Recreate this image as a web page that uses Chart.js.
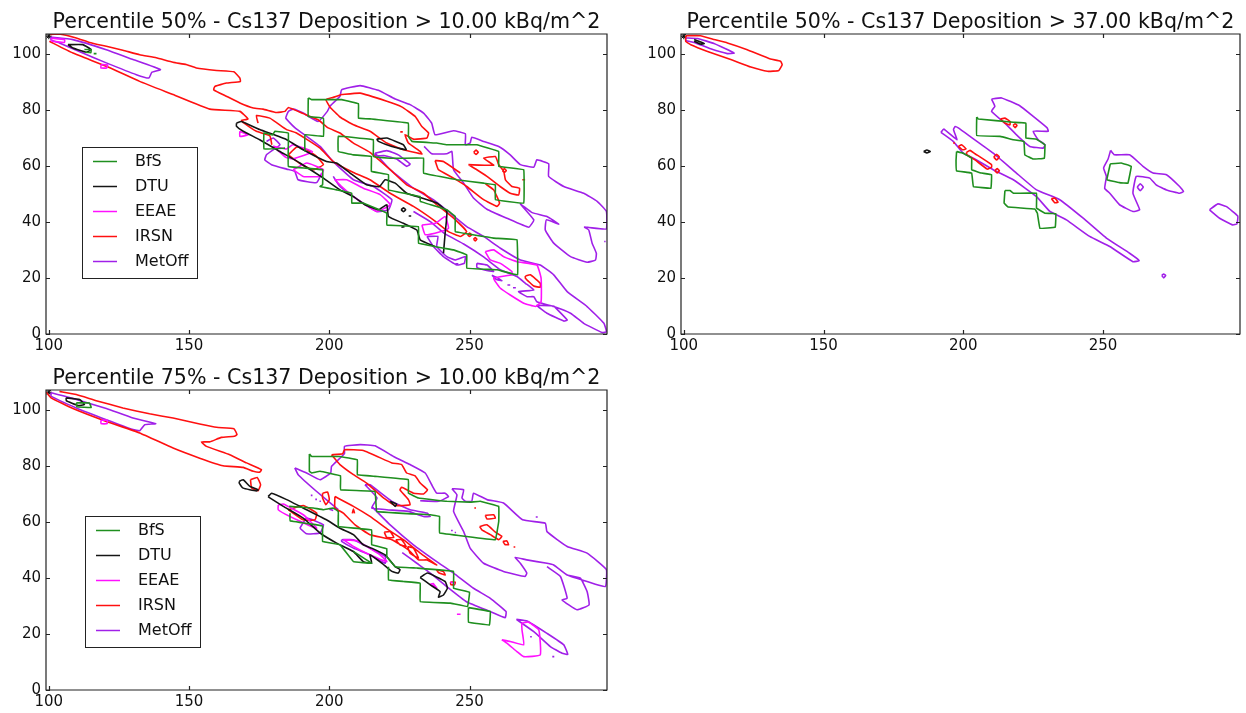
<!DOCTYPE html>
<html>
<head>
    <title>Cs137 Deposition</title>
    <style>
        html, body { margin: 0; padding: 0; background: #fff; overflow: hidden; }
        canvas { position: absolute; filter: blur(0.35px); }
    </style>
</head>
<body>
    <canvas id="chart1" style="left:0;top:0" width="620" height="356"></canvas>
    <canvas id="chart2" style="left:640px;top:0" width="606" height="356"></canvas>
    <canvas id="chart3" style="left:0;top:356px" width="620" height="356"></canvas>
    <script src="https://cdn.jsdelivr.net/npm/chart.js"></script>
    <script>
        // tick labels and names
        const xTicks = [100, 150, 200, 250];
        const yTicks = [0, 20, 40, 60, 80, 100];
        const models = ['BfS', 'DTU', 'EEAE', 'IRSN', 'MetOff'];
        const modelColors = ['#1f8f1f', '#151515', '#ff10ff', '#ff1010', '#a020e8'];
        const sourcePoint = [[100, 106.2]];

        // contours as [lon index, lat index], null = pen up
        // Percentile 50%, > 10 kBq/m^2
        const p1BfS = [[192.5,84.2],[193.7,83.6],[203.8,83.6],[204.4,83.6],[210.4,82.1],[210.4,77],[215.1,76.7],[217.5,76.4],[228.2,75.2],[228.2,70.5],[229.5,68.7],[238.3,68.1],[241.9,67.5],[250.2,67.5],[252.6,67.5],[260.4,65.1],[260.4,59.8],[269.3,58.6],[269.3,46.7],[259.2,47.9],[259.2,53.2],[255,53.8],[245.5,55],[233.6,57.4],[233.6,62.7],[226.4,62.7],[221.7,62.7],[215.7,63.3],[215.7,69.3],[203.2,70.5],[203.2,65.1],[208.6,63.9],[215,63.3],[215,58],[221.1,56.8],[221.1,51.4],[232.4,49],[232.4,47.3],[241.9,44.3],[244.9,41.9],[244.9,36.5],[258.6,34.2],[266.9,33.6],[267.1,21.1],[259.8,22.9],[249,23.5],[249,28.2],[244.3,30],[240.7,30.6],[231.8,32.4],[231.8,38.3],[220.5,38.9],[220.5,43.1],[212.1,46.7],[208,46.7],[208,50.2],[202.6,51.4],[196.7,52.6],[197.6,53.2],[197.6,58.6],[185.4,59.8],[185.4,71.7],[180.6,72.3],[179.8,71],[176.7,71.7],[176.7,66],[184.2,66.3],null,
            [192.5,84.2],[192.5,77.6],[197.9,77],[197.9,70.5],[191.3,71.1],[191.3,65.1],null,
            [112.7,101.5],[115.1,101.4],[115,100.3],[113,100.5],null,[116,100],[117,100]];
        const p1DTU = [[166.9,75.2],[168.7,75.8],[175.2,72.9],[184.8,69.3],[190.7,65.7],[199,61.5],[202.6,61],[207.4,57.4],[213.3,53.2],[217.9,52.6],[219.9,55],[223.5,53.8],[227.6,50.2],[233,48.5],[238.3,46.7],[241.9,43.7],[241.3,36],[240.7,28.8],null,
            [237.7,31.2],[232.4,33.6],[231.2,37.1],[226.4,39.5],[221.1,41.9],[220.5,46.1],[217.5,44.3],[212.7,46.1],[208.6,49],[203.8,51.4],[197.9,55.6],[189.5,61],[182.4,65.1],[175.2,69.3],[169.3,72.3],[166.9,74.1],[166.9,75.2],null,
            [216.9,69.5],[220.5,69.9],[226.4,67.5],[227.4,65.7],[222.3,66.9],[217.5,68.7],[216.9,69.5],null,
            [225.6,44.3],[226.4,45],[227.2,44.3],[226.4,43.6],[225.6,44.3],null,[228.3,42.1],[229.2,42.1],null,[225.7,38.1],[226.8,38.3],null,
            [106.8,103.2],[112.1,103.2],[115.1,101.4],[113.3,100.5],[108.6,102],[106.8,103.2]];
        const p1EEAE = [[255.6,29.4],[258.6,30],[262.1,27.6],[266.9,25.8],[274,24.6],[275.5,19.9],[275.5,11.5],[273.5,9.8],[269.3,11],[264.5,13.9],[261,16.3],[258.6,19.9],[265.1,21.1],[265.1,22.3],[261,25.2],[257.4,26.4],[255.6,29.4],null,
            [233,38.9],[237.8,39.5],[241.3,41.9],[242.5,37.7],[239.5,36.5],[234.2,35.4],[233,38.9],null,
            [202,55],[204.4,52.6],[208.6,49],[216.9,43.7],[221.7,46.1],[218.1,49.7],[212.1,52],[206.2,55],[202,55],null,
            [180,67],[184.8,66],[187,67.5],[194,65],[187,62.5],[184.5,63],[180,67],null,
            [187.1,58.6],[190.7,56.2],[196.7,56.2],[197.9,58.6],[192,61],[187.1,58.6],null,
            [168.1,72.3],[171,71],[168.1,70.5],[168.1,72.3],null,
            [118.7,96.1],[121,96],[120.6,94.9],[118.5,94.9],[118.7,96.1],null,
            [101,105.5],[105.6,105],[105.6,104],[101,104.5],[101,105.5]];
        const p1IRSN = [[100.2,106.8],[103.5,107],[109.8,105.6],[114.5,104],[120.5,102.6],[126.4,101.2],[132.4,99.6],[138.3,98.5],[144.3,96.9],[149,96.1],[152.6,94.9],[159.8,94],[166,93.5],[168.1,91.3],[168.3,90.1],[163.3,89.5],[159.2,88.3],[158.8,87.1],[163.3,84.8],[168.1,82.4],[172.9,80.6],[176.4,80.2],[181.2,79],[184.2,79.4],[185.4,80.8],[190.7,78.6],[196,76.4],[199.6,73.5],[203.8,71.7],[208.6,68.1],[214.5,64.8],[221.7,58.6],[227.6,53.2],[233.6,50.2],[238.3,46.1],[244.3,41.3],[249,36.5],[246.7,34.8],[242.5,36.5],[237.1,40.7],[230,45.5],[221.7,50.2],[214.5,55],[208.6,57.6],[201.4,61.5],[196.7,66.3],[188.3,71.7],[184.8,72.9],[178.8,77],[174,77.9],[174.6,75.2],null,
            [100.2,104.4],[108.6,100.2],[120.5,95.5],[132.4,90.1],[144.3,85.4],[157.4,80.2],[168.1,79.4],[171,76.7],[168.7,76.2],[169.5,75.3],[174,72.3],[178.8,70.7],[179.5,67.5],null,
            [204.4,85.4],[211,85.9],[220.5,83],[225.8,81],[230.6,77.6],[233,74],[235.4,71.7],[234.8,69.9],[230,69.5],[227,71.1],[228.2,68.1],[232.4,65.1],[233,64.2],[226.4,65.7],[220.5,68.1],[214.5,72.3],[208.6,74.6],[203.8,77.4],[200.2,81],[198.8,83.6],[201.4,84.4],[204.4,85.4],null,
            [237.7,61.9],[240.7,61.5],[246.7,57.4],null,[237.7,61.9],[238.9,58.6],[244.3,55.6],[249,52.6],[255,47.9],[259.8,45.5],[260.7,46.7],[258.6,51.4],[255.6,53.6],null,
            [249.6,60.4],[258.6,60.2],[255,62.7],[259.2,63.3],[260.4,60.4],[262.2,58],[262.8,55],[265.1,52.6],[267.8,52],[267.5,49.6],[264.5,50.2],[260.9,52.6],[256.2,56.2],[252.6,58.6],[249.6,60.4],null,
            [251.5,64.8],[252.3,65.6],[253.1,64.8],[252.3,64],[251.5,64.8],null,
            [261.7,58.3],[262.4,59],[263.1,58.3],[262.4,57.6],[261.7,58.3],null,
            [268.8,55],[269.8,55],null,[225.3,72.1],[226.2,72.1],null,
            [249.3,35.4],[250,36],[250.7,35.4],[250,34.8],[249.3,35.4],null,
            [251.4,33.8],[252,34.4],[252.6,33.8],[252,33.2],[251.4,33.8],null,
            [269.9,20.7],[271.7,21.1],[275.2,18.1],[275.2,16.7],[272.9,17.1],[269.9,19.9],[269.9,20.7],null,
            [185.4,63.9],[188.4,66.7],[191.9,65.7],[195.5,63.3],[197.9,60.4],[194.3,58.6],[190.1,60.4],[185.4,63.9]];
        const p1MetOff = [[100.8,105.9],[108.6,105],[120.5,101.4],[130,97.9],[139.8,94.3],[136.7,93.3],[135.7,91.3],[131.2,92.5],[120.5,96.7],[112.1,100.2],[103.8,103.8],[100.8,104.8],[100.8,105.9],null,
            [201.4,56.2],[203.8,52.6],[208.6,49],[216.9,43.7],[221.1,44.3],[222.3,47.9],[215.7,52.6],[208.6,55],[201.4,61.5],[196.7,66.9],[191.9,70.5],[187.8,73.5],[184.5,77],[185.4,79.4],[187.1,80.2],[190.7,78.8],[196,75.8],[199.3,79.4],[200.2,81.2],[203.8,84.8],[204.4,87.1],[211,88.6],[217.5,86.9],[223.5,83.8],[228.8,81.8],[233.6,78.8],[236.5,75.2],[237.7,71.1],[244.3,72.5],[248.5,71.4],[248.5,67.5],[250.2,68.1],[250.8,70.2],[255,68.7],[260.4,66.9],[264.5,63.9],[268.1,60.4],[272.9,59.5],[274,62.1],[278.2,60.7],[278.2,56.2],[283.6,52.6],[290.7,50.2],[295.5,47.3],[298.8,43.7],[298.8,37.5],[292.5,38],[291,38.1],[292.5,37.1],[293.7,32.4],[295.2,28.8],[294.9,26.4],[291.9,25.6],[286,27.6],[280,32.4],[277,37.1],[277.4,40.7],[281.8,39.2],[277.6,41.9],[272.3,43.3],[268.1,46.4],[272.9,40.7],[271.1,38.1],[263.3,41.3],[256.2,44.5],[251.4,48.5],[247.9,53.8],[244.3,58.6],[243.7,65.1],[241.9,64.3],[236.5,64.3],[233.8,66.9],null,
            [216.3,64.5],[220.5,65.4],[224.6,63.9],[228.8,60.6],[227.6,59.8],[224,62.4],[219.9,63.6],[216.3,63.6],[216.3,64.5],null,
            [216.3,64.5],[221.7,58.6],[230,52],[237.1,47.9],[243.1,43.1],[249,38.3],[255,34.8],[261,30.6],[268.1,26.4],[275.2,24.6],[280,21.1],[284.8,15.1],[291.9,9.8],[297.9,3.8],[298.8,0.8],[297.3,0.5],[290.7,3.8],[286,7.4],[280,9.8],[274,11.5],[272.9,13.3],[270.5,13.3],[267.5,15.1],[272.9,15.7],[269.9,18.1],[266.9,20.5],[261,22.9],[255,27.5],[247.9,32.1],[241.3,35.7],[236,40.1],[230,43.7],null,
            [252.6,25.2],[256.2,24.6],[258.6,22.3],[255,22.9],[252.6,23.8],[252.6,25.2],null,
            [280,10],[284.8,5],[283.6,4.6],[277.6,7.4],[274,10.2],[280,10],null,
            [177.6,68.7],[180,69.9],[182.4,67.5],[180,65.7],[177.6,63.9],[177,62.1],[179.4,60.4],[184.8,58.8],[187.7,58],[188.9,55],[195.5,54],[197.3,57.4],null,
            [234.8,34.8],[238.7,34.8],[238.3,31.2],[241.9,27.6],[244.9,26.4],[248.5,27.6],[248.1,25.2],[245.5,24.6],[240.7,27.6],[237.1,31.2],[234.8,34.8],null,
            [258,21],[260,20],[261.5,19],[259.5,19.5],[258,21],null,[263.5,17.5],[264.5,17.5],null,[265.5,16.5],[266.5,16.5],null,[245,25],[246,25],null,[298,33],[298.5,33]];
        // Percentile 50%, > 37 kBq/m^2
        const p2BfS = [[204.8,77.4],[205.4,76.7],[217.9,75.5],[222.4,75.2],[222.4,69.9],[226.2,69.5],[229.2,67.5],[229,62.7],[225,62.4],[222,63.9],[221.7,68.7],[217.9,69.3],[213.2,70.5],[204.8,70.8],[204.8,77.4],null,
            [197.6,65.1],[200,64.5],[203,62.7],[203,58.6],[206.5,57.4],[210.1,56.8],[209.9,52],[203.6,52.6],[203,57.4],[197.6,58.2],[197.4,61.9],[197.6,65.1],null,
            [214.9,51.2],[216.7,51.2],[217.9,50.2],[226.2,50.2],[226.2,44.9],[229.2,43.1],[233.1,42.9],[232.9,38.1],[227.4,37.7],[226.5,43.1],[225.6,44.6],[216,45.3],[214.6,46.7],[214.9,51.2],null,
            [252.6,60.7],[256.5,61],[260.1,59.8],[258.9,53.8],[255.9,54],[251.4,55],[252.6,60.7]];
        const p2DTU = [[185.8,65.1],[187,65.6],[188.2,65.1],[187,64.6],[185.8,65.1],null,[103.7,105],[107.3,103.6],[106,103.4],[103.7,104.4]];
        const p2IRSN = [[100.7,106.4],[106,106.4],[110.2,105.2],[115.6,103.8],[122.7,101.4],[131,98.1],[134.6,97.3],[135.2,96.1],[134,94],[129.9,93.7],[124,95.2],[116.8,97.9],[108.5,100.8],[102.5,103.2],[100.7,104.4],[100.7,106.4],null,
            [213.3,76.7],[214.9,77],[216.7,75.8],[216.7,74.6],[214.9,75.2],[213.3,76.7],null,
            [217.8,74.4],[218.5,75],[219.2,74.4],[218.5,73.6],[217.8,74.4],null,
            [210.9,63.1],[211.9,64.1],[212.9,63.1],[211.9,62.1],[210.9,63.1],null,
            [211.3,58.2],[212.1,59],[212.9,58.2],[212.1,57.4],[211.3,58.2],null,
            [231.5,48.3],[232.7,48.5],[233.9,47],[232.7,46.8],[231.5,48.3],null,
            [198.2,66.9],[199.4,67.5],[201,66],[199.8,65.7],[198.2,66.9],null,
            [201.2,64.8],[202.4,65.5],[204.2,64.3],[210.1,60.4],[210.1,59.5],[208.6,58.8],[204.2,62.1],[201.2,64],[201.2,64.8],null,
            [196.4,68.2],[197,68]];
        const p2MetOff = [[100.7,105.6],[104.9,105.4],[110.8,103.6],[118,100.2],[115.6,100],[109.6,101.7],[103.7,104],[100.7,104.7],[100.7,105.6],null,
            [192,71.9],[193,73.1],[197.7,69.3],[196.5,72.9],[197.1,74],[198.2,73.5],[202.4,70.5],[210.7,64.5],[219,57.4],[226.2,51.4],[234.5,47.9],[242.9,41.3],[251.2,34.2],[259.5,28.8],[262.9,26.2],[260.7,25.8],[252.4,31.2],[245.2,34.8],[236.9,40.7],[231,43.7],[226.2,49],[217.9,55],[210.7,58.6],[203.6,62.7],[200,64.5],[196.4,68.7],[192,71.9],null,
            [210.1,83.8],[213.7,84.2],[220.2,81.4],[225,77.6],[230,73.5],[230.4,72.3],[225,72.3],[226.8,69.3],[229.2,67.5],[228.6,66.3],[223.8,66.9],[219.6,70.5],[214.9,75.2],[210.1,79.4],[211.3,81.2],[210.1,83.8],null,
            [252.7,65.5],[254.1,63.9],[259.5,63.9],[264.3,59.8],[267.9,57.4],[272.7,56.8],[277.4,52.6],[278.8,50.8],[277.4,50.2],[272.7,51.4],[269,53.2],[266.7,55.6],[261.9,56.2],[260.7,50.2],[263.1,44.3],[260.7,43.7],[255.9,46.1],[252.4,50.2],[250.6,51.9],[251.2,56.2],[250.2,59.2],[251.8,62.4],[252.7,65.5],null,
            [262.2,52.4],[263.3,53.6],[264.4,52.4],[263.3,51.1],[262.2,52.4],null,
            [288.1,44.3],[291.1,46.4],[294,45.5],[298.2,42.1],[297.9,39.3],[296.4,38.9],[291.7,41.3],[288.1,44.3],null,
            [271,20.9],[271.7,21.4],[272.4,20.9],[271.7,20],[271,20.9]];
        // Percentile 75%, > 10 kBq/m^2
        const p3BfS = [[192.9,84.2],[193.7,83.3],[203.8,83.3],[210,82.1],[210,76.8],[216.3,76.2],[228.2,75],[228.2,70.2],[231.8,68.5],[241.9,67.3],[250.2,67],[253.8,67.3],[260.4,65.5],[260.4,60.1],[259.2,53.6],[248.5,54.8],[239.3,56],[239.3,61.9],[236,62.5],[216.9,63.7],[216.3,70.8],[204,71.4],[204,76.4],[196.7,78],[193.7,77.4],[192.9,78],[192.9,84.2],null,
            [203.2,62.5],[203.2,58.3],[215.1,57.1],[215.1,51.8],[220.5,50.4],[220.5,47.6],[223.5,44],[231.2,43.5],[244.3,42.3],[244.3,36.3],[250,34.9],[249.3,29.8],[243.1,31],[232.4,31.5],[232.4,38.1],[226.4,38.7],[221.1,39.3],[221.1,44],null,
            [249.6,29.4],[257.4,28],[257.1,23.2],[249.6,24.2],[249.6,29.4],null,
            [186,63],[186,60.4],[195.5,58.9],[197.6,58.5],[197.6,53],[203.8,51.8],[208.6,45.8],[215.1,45.2],[208.6,49.4],null,
            [185.7,65.5],[194.3,64.9],[197.9,64.3],[201.4,64.9],[203.2,63.7],[203.2,58.3],null,
            [109.8,102.4],[114.5,102.4],[115.1,100.8],[110,101],[109.8,102.4]];
        const p3DTU = [[167.9,74.4],[169.3,75],[171.7,72.6],[174.6,71.4],[174,71],[169.3,72],[167.9,73.8],[167.9,74.4],null,
            [178.2,69],[179.4,70.2],[184.8,67.9],[191.9,64.3],[199,60.7],[203.8,57.7],[208.6,55.4],[212.1,51.8],[215.1,50.6],[219.9,48.2],[223.5,44],[225.2,42.9],[224.6,41.7],[222.3,42.3],[218.8,45.2],[214.5,48.2],[215.1,45.2],[212.1,45.8],[208.6,49.4],[202.6,52.4],[196.7,56],[190.7,61.3],[183.6,65.5],[178.8,68.5],[178.2,69],null,
            [232.4,40.1],[235,41.7],[241.3,38.7],[242.1,36.3],[240.7,33.9],[238.9,33.1],[239.5,35.1],[236,37.5],[232.4,40.1],null,
            [221.7,67.3],[224,66.3],[223.5,65.5],[221.7,67.3],null,
            [106.2,104.2],[111,103.6],[112.7,101.8],[110.4,101.5],[106.2,103.2],[106.2,104.2]];
        const p3EEAE = [[261.5,17.9],[264.5,17.3],[269.3,16.1],[268.7,21.4],[268.7,23.8],[271.1,24.2],[274.7,21.4],[275.2,12.5],[269.3,11.9],[266.9,13.7],[263.3,16.7],[261.5,17.9],null,
            [236,37.7],[238.3,36.3],[237,38],[236,37.7],null,[245.5,27],[246.8,27],null,[243.2,38.5],[244.8,38],null,
            [181.8,66],[183.6,66.3],[190.7,62.5],[195.5,57.7],[186,61.9],[181.8,64.3],[181.8,66],null,
            [205,53.6],[209.8,53.2],[218.1,48.2],[220.5,45.8],[213.3,48.8],[208.6,51.2],[205,53.6],null,
            [118.6,96.2],[120.8,96.3],[120.8,95],[118.6,95],[118.6,96.2]];
        const p3IRSN = [[103.8,106.5],[109.8,105.4],[116.9,103.2],[126.4,100.6],[135.9,98.5],[144.3,97],[153.8,94.9],[159.8,93.7],[166,93.2],[167.1,91.1],[166.2,90.5],[161.5,90.1],[157.4,88.5],[154.4,88.5],[156.2,86.9],[164.5,83.9],[170.5,81],[175.8,78.6],[175.2,77.7],[172.9,78],[169.3,79.4],[162.1,80],[153.8,82.7],[144.3,86.3],[132.4,91.7],[120.5,95.8],[108.6,100.4],[100.8,104.2],[99,106.3],null,
            [171.9,75],[174.3,75.8],[175.5,73.2],[174.6,71.1],[172.3,72],[171.9,75],null,
            [185.4,64.3],[190.7,65.8],[195.5,63.1],[194.9,60.7],[190.7,60.7],[185.4,64.3],null,
            [200.8,83.9],[204.8,84.3],[205.4,85.7],[212.1,85.4],[222.3,81],[225.8,80.4],[227.6,77.4],[230.6,76.4],[232.4,73.8],[235,71.4],[233.6,69.9],[230,70.2],[225.8,72.3],[225.2,71.4],[228.2,67.9],[228.8,66.1],[223.5,65.8],[219.3,68.5],[213.3,73.8],[208.6,76.8],[203.8,80.4],[200.8,83.9],null,
            [202,69],[208.6,65.5],[214.5,61.9],[221.1,57.1],[226.4,53.6],[232.4,48.8],[238.3,44.6],[234.8,46.4],[231.8,46.4],[228.2,50],[222.3,53.6],[214.5,55.4],[209.2,58.9],[205,63.1],[202,64.9],[202,69],null,
            [197.6,70.2],[199.4,70.6],[200,67.9],[198.8,66.1],[197.6,68.5],[197.6,70.2],null,
            [208.2,63],[208.6,64.5],[209,63],null,
            [219.6,56.3],[221.7,56.5],[223,54.4],[220.5,54.4],[219.6,56.3],null,
            [223.7,53.6],[225.8,53.6],[227.4,51.2],[225.2,51.8],[223.7,53.6],null,
            [227.9,51.2],[230,50.6],[231.8,47],[228.8,48.8],[227.9,51.2],null,
            [238.2,42.9],[240.7,42.2],[241.3,41],[239,41.8],[238.2,42.9],null,
            [243.2,38.5],[244.9,38.5],[244.6,37.5],[243.3,37.6],[243.2,38.5],null,
            [255.6,62.3],[258.6,62.5],[259.2,61.3],[256.2,61],[255.6,62.3],null,
            [253.6,58.3],[256.2,58.9],[259.2,56.3],[261.5,54.8],[260.4,53.6],[257.4,55.4],[254.4,57.1],[253.6,58.3],null,
            [261.9,53],[263.3,53.2],[263.9,51.8],[262.6,51.9],[261.9,53],null,
            [251.7,64.9],[252.3,64.9],null,[265.7,51],[266.3,51]];
        const p3MetOff = [[100.8,106],[108.6,104],[120.5,100.4],[130,97],[138.1,95],[134.2,94.6],[132.4,92.5],[130,92.9],[120.5,96.4],[109.8,100.6],[100.8,104.8],[100.8,106],null,
            [187.7,79.2],[191.9,77.4],[196.7,75],[200.5,77.4],[200.8,79.8],[205.4,84.3],[205.4,86.9],[211,87.5],[216.3,87.1],[222.9,83.3],[228.8,80.4],[234.2,77.4],[236.5,73.2],[238.3,70.2],[241.3,70.2],[242.5,69],[239,67.3],[232.4,67.5],null,
            [187.7,79.2],[188.9,76.8],[195.5,70.8],[203.2,64.3],null,
            [243.7,71.8],[247.9,71.4],[247.3,68.5],[248.5,67.3],[250.8,67.3],[251.4,70.2],[256.2,67.9],[262.1,66.7],[268.9,60.7],[277,59.5],[277.6,56.5],[284.8,51.2],[291.9,48.8],[298.8,42.9],[298.4,36.9],[291.9,38.7],[284.8,41],[280,44.6],[277.6,45.2],[270.4,46.4],[266.3,47.3],[268.1,45.2],[270.4,41.7],[269.8,40.5],[262.1,42.3],[255,45.2],[250.2,50.6],[247.9,56.5],[244.3,63.7],[245.5,69.6],[243.7,71.8],null,
            [277.6,44],[282.4,40.5],[284.8,32.7],[283,32.1],[288.3,28.6],[292.6,30.4],[291.9,35.1],[289.5,39.9],[284.8,41],null,
            [212.7,73.2],[214.5,73.2],[222.3,67.3],[228.8,64.3],[234.8,63.1],[236,61.9],[233.6,61.9],[228.2,63.7],[220.5,64.3],[215.1,64.9],[217,68.5],[212.7,73.2],null,
            [215.1,65.5],[221.7,58.9],[230,51.8],[238.3,45.8],[244.3,41.7],[251.4,36.3],[257.4,32.7],[263,28],[262.7,25.8],[257.4,28],[248.9,31.5],[241.9,36.9],[236,41.7],[231.2,45.2],[226,49],null,
            [266.7,25.2],[270.5,24.6],[277.6,20.2],[283.6,16.1],[285,12.7],[283,13.1],[278.8,15.5],[272.9,20.8],[266.7,25.2],null,
            [204.4,53.6],[208.6,53.6],[214.5,50.6],[219.9,47.6],[219.9,45.2],[214.5,48.2],[208.6,50.6],[204.4,53],[204.4,53.6],null,
            [189.5,57.7],[191.9,55.7],[196.7,56],[197.9,58.9],[191.9,61.3],[189.5,57.7],null,
            [193.4,69.4],[194,69.4],null,[195,68],[195.6,68],null,[196.5,67.3],[197,67.3],null,[200,64.5],[201.4,64],null,
            [273.6,61.7],[274.3,61.7],null,[243.4,56.9],[244,56.9],null,[244.7,56.2],[245.2,56.2],null,[271.6,19],[272.2,19],null,[279.5,11.9],[280.2,11.9]];

        // box frame and inward tick marks on all four sides
        const frameTicks = {
            id: 'frameTicks',
            afterDatasetsDraw(chart) {
                const { ctx, chartArea: a, scales } = chart;
                ctx.save();
                ctx.strokeStyle = '#222';
                ctx.lineWidth = 1.2;
                ctx.beginPath();
                ctx.rect(a.left, a.top, a.right - a.left, a.bottom - a.top);
                xTicks.forEach(v => {
                    const px = Math.round(scales.x.getPixelForValue(v)) + 0.5;
                    ctx.moveTo(px, a.top); ctx.lineTo(px, a.top + 4);
                    ctx.moveTo(px, a.bottom); ctx.lineTo(px, a.bottom - 4);
                });
                yTicks.forEach(v => {
                    const py = Math.round(scales.y.getPixelForValue(v)) + 0.5;
                    ctx.moveTo(a.left, py); ctx.lineTo(a.left + 4, py);
                    ctx.moveTo(a.right, py); ctx.lineTo(a.right - 4, py);
                });
                ctx.stroke();
                ctx.restore();
            }
        };

        // matplotlib style legend box inside the axes
        const boxLegend = {
            id: 'boxLegend',
            afterDraw(chart, args, opts) {
                if (!opts.show) return;
                const ctx = chart.ctx;
                ctx.save();
                ctx.fillStyle = '#fff';
                ctx.strokeStyle = '#222';
                ctx.lineWidth = 1;
                ctx.fillRect(opts.left, opts.top, 115, 131);
                ctx.strokeRect(opts.left + 0.5, opts.top + 0.5, 115, 131);
                ctx.font = '16px "DejaVu Sans"';
                ctx.textBaseline = 'middle';
                models.forEach((name, i) => {
                    const y = opts.top + 14.5 + i * 25;
                    ctx.strokeStyle = modelColors[i];
                    ctx.lineWidth = 1.5;
                    ctx.beginPath();
                    ctx.moveTo(opts.left + 11, y);
                    ctx.lineTo(opts.left + 35, y);
                    ctx.stroke();
                    ctx.fillStyle = '#111';
                    ctx.fillText(name, opts.left + 53, y);
                });
                ctx.restore();
            }
        };

        function toPoints(list) {
            return list.map(p => p ? { x: p[0], y: p[1] } : { x: null, y: null });
        }

        function drawPanel(id, title, series, yAxisWidth, rightPad, legend) {
            const datasets = [];
            models.forEach((name, i) => {
                if (!series[i]) return;
                datasets.push({
                    label: name,
                    data: toPoints(series[i]),
                    showLine: true,
                    borderColor: modelColors[i],
                    borderWidth: 1.6,
                    borderJoinStyle: 'round',
                    tension: i === 0 ? 0.04 : 0.12,
                    pointRadius: 0,
                    spanGaps: false
                });
            });
            datasets.push({
                label: 'Source',
                data: toPoints(sourcePoint),
                pointStyle: 'star',
                pointRadius: 3,
                pointBorderColor: '#000',
                pointBackgroundColor: '#000',
                showLine: false
            });
            new Chart(document.getElementById(id), {
                type: 'scatter',
                data: { datasets: datasets },
                plugins: [frameTicks, boxLegend],
                options: {
                    responsive: false,
                    animation: false,
                    layout: { padding: { left: 0, right: rightPad, top: 0, bottom: 0 } },
                    plugins: {
                        legend: { display: false },
                        tooltip: { enabled: false },
                        title: {
                            display: true,
                            text: title,
                            fullSize: false,
                            color: '#111',
                            font: { family: 'DejaVu Sans', size: 20.6, weight: 'normal', lineHeight: 1 },
                            padding: { top: 12, bottom: 1.4 }
                        },
                        boxLegend: legend
                    },
                    scales: {
                        x: {
                            type: 'linear', min: 99, max: 299,
                            grid: { display: false, drawTicks: false },
                            border: { display: false },
                            afterBuildTicks: s => { s.ticks = xTicks.map(v => ({ value: v })); },
                            afterFit: s => { s.height = 22; },
                            ticks: { color: '#111', padding: 3, maxRotation: 0, font: { family: 'DejaVu Sans', size: 15 } }
                        },
                        y: {
                            type: 'linear', min: 0, max: 107,
                            grid: { display: false, drawTicks: false },
                            border: { display: false },
                            afterBuildTicks: s => { s.ticks = yTicks.map(v => ({ value: v })); },
                            afterFit: s => { s.width = yAxisWidth; },
                            ticks: { color: '#111', padding: 5, font: { family: 'DejaVu Sans', size: 15 } }
                        }
                    }
                }
            });
        }

        drawPanel('chart1', 'Percentile 50% - Cs137 Deposition > 10.00 kBq/m^2',
            [p1BfS, p1DTU, p1EEAE, p1IRSN, p1MetOff], 46, 13, { show: true, left: 82, top: 147 });
        drawPanel('chart2', 'Percentile 50% - Cs137 Deposition > 37.00 kBq/m^2',
            [p2BfS, p2DTU, null, p2IRSN, p2MetOff], 41, 6, { show: false });
        drawPanel('chart3', 'Percentile 75% - Cs137 Deposition > 10.00 kBq/m^2',
            [p3BfS, p3DTU, p3EEAE, p3IRSN, p3MetOff], 46, 13, { show: true, left: 85, top: 160 });
    </script>
</body>
</html>
